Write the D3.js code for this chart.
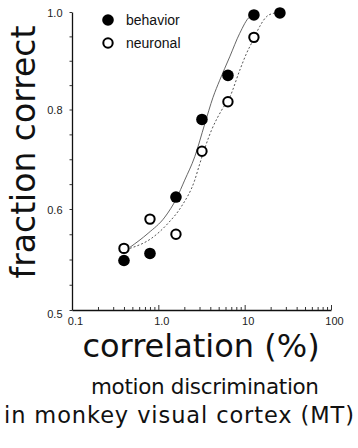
<!DOCTYPE html>
<html><head><meta charset="utf-8">
<script src="https://cdn.jsdelivr.net/npm/d3@7"></script>
<style>
html,body{margin:0;padding:0;background:#fff;}
svg{display:block;}
</style></head>
<body>
<svg id="chart" width="358" height="448"></svg>
<script>
// ---- data ----
const coherence = [0.4, 0.8, 1.6, 3.2, 6.4, 12.8, 25.6];
const behavior  = [0.549, 0.556, 0.624, 0.780, 0.870, 0.994, 0.998];
const neuronal  = [0.561, 0.590, 0.575, 0.716, 0.816, 0.948];
const behaviorFitX = [0.468, 0.762, 1.19, 1.62, 2.02, 2.64, 3.45, 4.30, 5.14, 6.71, 8.75, 11.4, 12.7];
const behaviorFitY = [0.562, 0.576, 0.592, 0.621, 0.658, 0.705, 0.771, 0.825, 0.860, 0.908, 0.956, 0.990, 0.994];
const neuronalFitX = [0.468, 0.834, 1.30, 1.85, 2.64, 3.02, 4.12, 5.38, 6.71, 8.75, 10.5, 12.5, 14.9, 17.8, 21.2, 25.6];
const neuronalFitY = [0.561, 0.571, 0.586, 0.605, 0.658, 0.691, 0.758, 0.798, 0.825, 0.880, 0.915, 0.942, 0.970, 0.990, 0.997, 0.999];
const yTickValues = [0.5, 0.6, 0.8, 1.0];
const yTickLabels = ["0.5", "0.6", "0.8", "1.0"];
const yMinorTicks = [0.525, 0.55, 0.575, 0.65, 0.7, 0.75, 0.85, 0.9, 0.95];
const xTickValues = [0.1, 1, 10, 100];
const xTickLabels = ["0.1", "1.0", "10", "100"];
const legendLabels = ["behavior", "neuronal"];
const yTitle = "fraction correct";
const xTitle = "correlation (%)";
const captionLines = ["motion discrimination", "in monkey visual cortex (MT)"];

// ---- scales ----
const svg = d3.select("#chart");
const x = d3.scaleLog().domain([0.1, 100]).range([72, 331]);
const y = d3.scaleLinear().domain([0.5, 0.6, 0.8, 1.0]).range([310, 209, 109.5, 12]);

const tickFont = "'Liberation Sans', Arial, sans-serif";
const titleFont = "'DejaVu Sans', sans-serif";

// x minor ticks
const xMinor = [];
[0.1, 1, 10].forEach(d => { for (let k = 2; k <= 9; k++) xMinor.push(+(d * k).toPrecision(3)); });

// ---- axes ----
const xAxis = d3.axisBottom(x).tickValues(xTickValues)
  .tickFormat((d, i) => xTickLabels[i]).tickSizeInner(-5).tickSizeOuter(0).tickPadding(7);
const gx = svg.append("g").attr("transform", "translate(0,310)").call(xAxis);
gx.selectAll("text").attr("dx", 3);
const xAxisMinor = d3.axisBottom(x).tickValues(xMinor).tickFormat("").tickSizeInner(-3).tickSizeOuter(0);
svg.append("g").attr("transform", "translate(0,310)").call(xAxisMinor).select(".domain").remove();

const yAxis = d3.axisLeft(y).tickValues(yTickValues)
  .tickFormat((d, i) => yTickLabels[i]).tickSizeInner(2.5).tickSizeOuter(0).tickPadding(7);
const gy = svg.append("g").attr("transform", "translate(72,0)").call(yAxis);
gy.selectAll(".tick text").attr("dy", (d) => d === 0.5 ? "0.65em" : "0.4em");
const yAxisMinor = d3.axisLeft(y).tickValues(yMinorTicks).tickFormat("").tickSizeInner(2.5).tickSizeOuter(0);
svg.append("g").attr("transform", "translate(72,0)").call(yAxisMinor).select(".domain").remove();

svg.selectAll(".domain").attr("stroke", "#111").attr("stroke-width", 1.3);
svg.selectAll(".tick line").attr("stroke", "#333").attr("stroke-width", 1);
svg.selectAll(".tick text").attr("font-family", tickFont).attr("font-size", 11).attr("fill", "#222");

// ---- fit curves ----
const line = d3.line().x(d => x(d[0])).y(d => y(d[1])).curve(d3.curveMonotoneX);
svg.append("path")
  .datum(behaviorFitX.map((v, i) => [v, behaviorFitY[i]]))
  .attr("d", line).attr("fill", "none").attr("stroke", "#555").attr("stroke-width", 0.9);
svg.append("path")
  .datum(neuronalFitX.map((v, i) => [v, neuronalFitY[i]]))
  .attr("d", line).attr("fill", "none").attr("stroke", "#555").attr("stroke-width", 1)
  .attr("stroke-dasharray", "2,2");

// ---- points ----
svg.append("g").selectAll("circle").data(behavior).join("circle")
  .attr("cx", (d, i) => x(coherence[i])).attr("cy", d => y(d))
  .attr("r", 5.8).attr("fill", "#000");
svg.append("g").selectAll("circle").data(neuronal).join("circle")
  .attr("cx", (d, i) => x(coherence[i])).attr("cy", d => y(d))
  .attr("r", 4.7).attr("fill", "#fff").attr("stroke", "#000").attr("stroke-width", 2);

// ---- legend ----
const lg = svg.append("g");
lg.append("circle").attr("cx", 108).attr("cy", 20).attr("r", 5.8).attr("fill", "#000");
lg.append("circle").attr("cx", 108).attr("cy", 43).attr("r", 4.7).attr("fill", "#fff").attr("stroke", "#000").attr("stroke-width", 2);
lg.selectAll("text").data(legendLabels).join("text")
  .attr("x", 126).attr("y", (d, i) => 20 + i * 23).attr("dy", "0.35em")
  .attr("font-family", tickFont).attr("font-size", 14).attr("fill", "#111").text(d => d);

// ---- titles ----
svg.append("text").attr("transform", "translate(35,152) rotate(-90)")
  .attr("text-anchor", "middle").attr("font-family", titleFont).attr("font-size", 33)
  .attr("fill", "#111").text(yTitle);
svg.append("text").attr("x", 201).attr("y", 357)
  .attr("text-anchor", "middle").attr("font-family", titleFont).attr("font-size", 32)
  .attr("fill", "#111").text(xTitle);
const capSizes = [21.5, 22.5];
const capWidths = [228, 350];
svg.append("g").selectAll("text").data(captionLines).join("text")
  .attr("x", (d, i) => i === 0 ? 205 : 179).attr("y", (d, i) => 394 + i * 29)
  .attr("text-anchor", "middle").attr("font-family", titleFont)
  .attr("font-size", (d, i) => capSizes[i])
  .attr("textLength", (d, i) => capWidths[i]).attr("lengthAdjust", "spacing")
  .attr("fill", "#111").text(d => d);
</script>
</body></html>
